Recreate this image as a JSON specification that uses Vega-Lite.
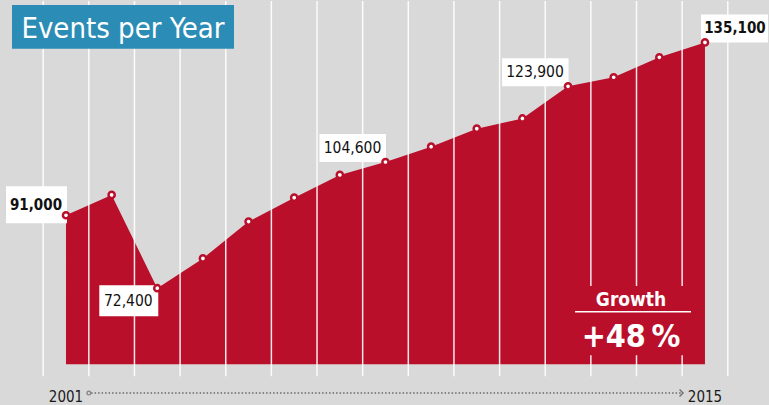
{
  "$schema": "https://vega.github.io/schema/vega-lite/v6.json",
  "width": 769,
  "height": 405,
  "autosize": {"type": "fit", "contains": "padding"},
  "padding": 0,
  "background": "#d9d9d9",
  "config": {"view": {"stroke": null}, "axis": {"disable": true}, "legend": {"disable": true}, "text": {"font": "DejaVu Sans Condensed"}},
  "datasets": {
    "events": [
      {"year": 2001, "value": 91000, "label": "91,000"},
      {"year": 2002, "value": 96200},
      {"year": 2003, "value": 72400, "label": "72,400"},
      {"year": 2004, "value": 80000},
      {"year": 2005, "value": 89400},
      {"year": 2006, "value": 95500},
      {"year": 2007, "value": 101300},
      {"year": 2008, "value": 104600, "label": "104,600"},
      {"year": 2009, "value": 108500},
      {"year": 2010, "value": 113100},
      {"year": 2011, "value": 115700},
      {"year": 2012, "value": 123900, "label": "123,900"},
      {"year": 2013, "value": 126200},
      {"year": 2014, "value": 131300},
      {"year": 2015, "value": 135100, "label": "135,100"}
    ],
    "grid": [
      {"year": 2000.5}, {"year": 2001.5}, {"year": 2002.5}, {"year": 2003.5},
      {"year": 2004.5}, {"year": 2005.5}, {"year": 2006.5}, {"year": 2007.5},
      {"year": 2008.5}, {"year": 2009.5}, {"year": 2010.5}, {"year": 2011.5},
      {"year": 2012.5}, {"year": 2013.5}, {"year": 2014.5}, {"year": 2015.5}
    ],
    "one": [{}]
  },
  "layer": [
    {
      "data": {"name": "events"},
      "mark": {"type": "area", "color": "#BA0F2B"},
      "encoding": {
        "x": {"field": "year", "type": "quantitative", "scale": {"domain": [1999.554, 2016.403], "nice": false, "zero": false, "padding": 0}},
        "y": {"field": "value", "type": "quantitative", "scale": {"domain": [43114, 145660], "nice": false, "zero": false, "padding": 0}},
        "y2": {"datum": 53000}
      }
    },
    {
      "data": {"name": "grid"},
      "mark": {"type": "rule", "color": "#ffffff", "strokeWidth": 1.5, "opacity": 0.9},
      "encoding": {
        "x": {"field": "year", "type": "quantitative", "scale": {"domain": [1999.554, 2016.403], "nice": false, "zero": false, "padding": 0}},
        "y": {"datum": 145660, "type": "quantitative", "scale": {"domain": [43114, 145660], "nice": false, "zero": false, "padding": 0}},
        "y2": {"datum": 49950}
      }
    },
    {
      "data": {"name": "one"},
      "mark": {"type": "rect", "fill": "#2B8CB6"},
      "encoding": {
        "x": {"datum": 1999.817, "type": "quantitative", "scale": {"domain": [1999.554, 2016.403], "nice": false, "zero": false, "padding": 0}},
        "x2": {"datum": 2004.681},
        "y": {"datum": 144647, "type": "quantitative", "scale": {"domain": [43114, 145660], "nice": false, "zero": false, "padding": 0}},
        "y2": {"datum": 133506}
      }
    },
    {
      "data": {"name": "one"},
      "mark": {"type": "text", "text": "Events per Year", "fontSize": 29, "color": "#ffffff", "align": "center", "baseline": "alphabetic"},
      "encoding": {
        "x": {"datum": 2002.249, "type": "quantitative", "scale": {"domain": [1999.554, 2016.403], "nice": false, "zero": false, "padding": 0}},
        "y": {"datum": 136292, "type": "quantitative", "scale": {"domain": [43114, 145660], "nice": false, "zero": false, "padding": 0}}
      }
    },
    {
      "data": {"name": "one"},
      "mark": {"type": "rect", "fill": "#BA0F2B"},
      "encoding": {
        "x": {"datum": 2012.109, "type": "quantitative", "scale": {"domain": [1999.554, 2016.403], "nice": false, "zero": false, "padding": 0}},
        "x2": {"datum": 2014.738},
        "y": {"datum": 72991, "type": "quantitative", "scale": {"domain": [43114, 145660], "nice": false, "zero": false, "padding": 0}},
        "y2": {"datum": 55268}
      }
    },
    {
      "data": {"name": "one"},
      "mark": {"type": "text", "text": "Growth", "fontSize": 19, "fontWeight": "bold", "color": "#ffffff", "align": "center", "baseline": "alphabetic"},
      "encoding": {
        "x": {"datum": 2013.38, "type": "quantitative", "scale": {"domain": [1999.554, 2016.403], "nice": false, "zero": false, "padding": 0}},
        "y": {"datum": 67928, "type": "quantitative", "scale": {"domain": [43114, 145660], "nice": false, "zero": false, "padding": 0}}
      }
    },
    {
      "data": {"name": "one"},
      "mark": {"type": "rule", "color": "#ffffff", "strokeWidth": 1.5},
      "encoding": {
        "x": {"datum": 2012.153, "type": "quantitative", "scale": {"domain": [1999.554, 2016.403], "nice": false, "zero": false, "padding": 0}},
        "x2": {"datum": 2014.694},
        "y": {"datum": 66408, "type": "quantitative", "scale": {"domain": [43114, 145660], "nice": false, "zero": false, "padding": 0}}
      }
    },
    {
      "data": {"name": "one"},
      "mark": {"type": "text", "text": "+48\u2009%", "fontSize": 32, "fontWeight": "bold", "color": "#ffffff", "align": "center", "baseline": "alphabetic"},
      "encoding": {
        "x": {"datum": 2013.38, "type": "quantitative", "scale": {"domain": [1999.554, 2016.403], "nice": false, "zero": false, "padding": 0}},
        "y": {"datum": 57470, "type": "quantitative", "scale": {"domain": [43114, 145660], "nice": false, "zero": false, "padding": 0}}
      }
    },
    {
      "data": {"name": "events"},
      "transform": [{"filter": "datum.year == 2001"}],
      "mark": {"type": "rect", "fill": "#ffffff", "xOffset": -60, "x2Offset": 1, "yOffset": -29, "y2Offset": 8},
      "encoding": {
        "x": {"field": "year", "type": "quantitative", "scale": {"domain": [1999.554, 2016.403], "nice": false, "zero": false, "padding": 0}},
        "x2": {"field": "year"},
        "y": {"field": "value", "type": "quantitative", "scale": {"domain": [43114, 145660], "nice": false, "zero": false, "padding": 0}},
        "y2": {"field": "value"}
      }
    },
    {
      "data": {"name": "events"},
      "transform": [{"filter": "datum.year == 2003"}],
      "mark": {"type": "rect", "fill": "#ffffff", "xOffset": -58, "x2Offset": 1, "yOffset": -3, "y2Offset": 28},
      "encoding": {
        "x": {"field": "year", "type": "quantitative", "scale": {"domain": [1999.554, 2016.403], "nice": false, "zero": false, "padding": 0}},
        "x2": {"field": "year"},
        "y": {"field": "value", "type": "quantitative", "scale": {"domain": [43114, 145660], "nice": false, "zero": false, "padding": 0}},
        "y2": {"field": "value"}
      }
    },
    {
      "data": {"name": "events"},
      "transform": [{"filter": "datum.year == 2008 || datum.year == 2012"}],
      "mark": {"type": "rect", "fill": "#ffffff", "xOffset": -66, "x2Offset": 0.5, "yOffset": -28, "y2Offset": 0},
      "encoding": {
        "x": {"field": "year", "type": "quantitative", "scale": {"domain": [1999.554, 2016.403], "nice": false, "zero": false, "padding": 0}},
        "x2": {"field": "year"},
        "y": {"field": "value", "type": "quantitative", "scale": {"domain": [43114, 145660], "nice": false, "zero": false, "padding": 0}},
        "y2": {"field": "value"}
      }
    },
    {
      "data": {"name": "events"},
      "transform": [{"filter": "datum.year == 2015"}],
      "mark": {"type": "rect", "fill": "#ffffff", "xOffset": -4, "x2Offset": 63, "yOffset": -28, "y2Offset": 0},
      "encoding": {
        "x": {"field": "year", "type": "quantitative", "scale": {"domain": [1999.554, 2016.403], "nice": false, "zero": false, "padding": 0}},
        "x2": {"field": "year"},
        "y": {"field": "value", "type": "quantitative", "scale": {"domain": [43114, 145660], "nice": false, "zero": false, "padding": 0}},
        "y2": {"field": "value"}
      }
    },
    {
      "data": {"name": "events"},
      "transform": [{"filter": "datum.year == 2001"}],
      "mark": {"type": "text", "fontSize": 15, "fontWeight": "bold", "color": "#111111", "align": "center", "baseline": "middle", "dx": -30, "dy": -10},
      "encoding": {
        "x": {"field": "year", "type": "quantitative", "scale": {"domain": [1999.554, 2016.403], "nice": false, "zero": false, "padding": 0}},
        "y": {"field": "value", "type": "quantitative", "scale": {"domain": [43114, 145660], "nice": false, "zero": false, "padding": 0}},
        "text": {"field": "label"}
      }
    },
    {
      "data": {"name": "events"},
      "transform": [{"filter": "datum.year == 2003"}],
      "mark": {"type": "text", "fontSize": 15.5, "color": "#111111", "align": "center", "baseline": "middle", "dx": -29, "dy": 13},
      "encoding": {
        "x": {"field": "year", "type": "quantitative", "scale": {"domain": [1999.554, 2016.403], "nice": false, "zero": false, "padding": 0}},
        "y": {"field": "value", "type": "quantitative", "scale": {"domain": [43114, 145660], "nice": false, "zero": false, "padding": 0}},
        "text": {"field": "label"}
      }
    },
    {
      "data": {"name": "events"},
      "transform": [{"filter": "datum.year == 2008 || datum.year == 2012"}],
      "mark": {"type": "text", "fontSize": 15.5, "color": "#111111", "align": "center", "baseline": "middle", "dx": -33, "dy": -14},
      "encoding": {
        "x": {"field": "year", "type": "quantitative", "scale": {"domain": [1999.554, 2016.403], "nice": false, "zero": false, "padding": 0}},
        "y": {"field": "value", "type": "quantitative", "scale": {"domain": [43114, 145660], "nice": false, "zero": false, "padding": 0}},
        "text": {"field": "label"}
      }
    },
    {
      "data": {"name": "events"},
      "transform": [{"filter": "datum.year == 2015"}],
      "mark": {"type": "text", "fontSize": 15, "fontWeight": "bold", "color": "#111111", "align": "center", "baseline": "middle", "dx": 30, "dy": -14},
      "encoding": {
        "x": {"field": "year", "type": "quantitative", "scale": {"domain": [1999.554, 2016.403], "nice": false, "zero": false, "padding": 0}},
        "y": {"field": "value", "type": "quantitative", "scale": {"domain": [43114, 145660], "nice": false, "zero": false, "padding": 0}},
        "text": {"field": "label"}
      }
    },
    {
      "data": {"name": "events"},
      "mark": {"type": "point", "shape": "circle", "filled": true, "fill": "#ffffff", "stroke": "#BA0F2B", "strokeWidth": 2.5, "size": 38, "opacity": 1},
      "encoding": {
        "x": {"field": "year", "type": "quantitative", "scale": {"domain": [1999.554, 2016.403], "nice": false, "zero": false, "padding": 0}},
        "y": {"field": "value", "type": "quantitative", "scale": {"domain": [43114, 145660], "nice": false, "zero": false, "padding": 0}}
      }
    },
    {
      "data": {"name": "one"},
      "mark": {"type": "rule", "color": "#858585", "strokeWidth": 2, "strokeDash": [1.5, 2]},
      "encoding": {
        "x": {"datum": 2001.55, "type": "quantitative", "scale": {"domain": [1999.554, 2016.403], "nice": false, "zero": false, "padding": 0}},
        "x2": {"datum": 2014.48},
        "y": {"datum": 45646, "type": "quantitative", "scale": {"domain": [43114, 145660], "nice": false, "zero": false, "padding": 0}}
      }
    },
    {
      "data": {"name": "one"},
      "mark": {"type": "point", "shape": "circle", "filled": false, "stroke": "#858585", "strokeWidth": 1.3, "size": 14, "opacity": 1},
      "encoding": {
        "x": {"datum": 2001.5, "type": "quantitative", "scale": {"domain": [1999.554, 2016.403], "nice": false, "zero": false, "padding": 0}},
        "y": {"datum": 45646, "type": "quantitative", "scale": {"domain": [43114, 145660], "nice": false, "zero": false, "padding": 0}}
      }
    },
    {
      "data": {"name": "one"},
      "mark": {"type": "point", "shape": "M -1 -1 L 0 0 L -1 1", "filled": false, "stroke": "#707070", "strokeWidth": 1.4, "size": 50, "opacity": 1},
      "encoding": {
        "x": {"datum": 2014.52, "type": "quantitative", "scale": {"domain": [1999.554, 2016.403], "nice": false, "zero": false, "padding": 0}},
        "y": {"datum": 45646, "type": "quantitative", "scale": {"domain": [43114, 145660], "nice": false, "zero": false, "padding": 0}}
      }
    },
    {
      "data": {"name": "events"},
      "transform": [{"filter": "datum.year == 2001 || datum.year == 2015"}],
      "mark": {"type": "text", "fontSize": 15, "color": "#1a1a1a", "align": "center", "baseline": "alphabetic"},
      "encoding": {
        "x": {"field": "year", "type": "quantitative", "scale": {"domain": [1999.554, 2016.403], "nice": false, "zero": false, "padding": 0}},
        "y": {"datum": 43494, "type": "quantitative", "scale": {"domain": [43114, 145660], "nice": false, "zero": false, "padding": 0}},
        "text": {"field": "year", "type": "quantitative", "format": "d"}
      }
    }
  ]
}
